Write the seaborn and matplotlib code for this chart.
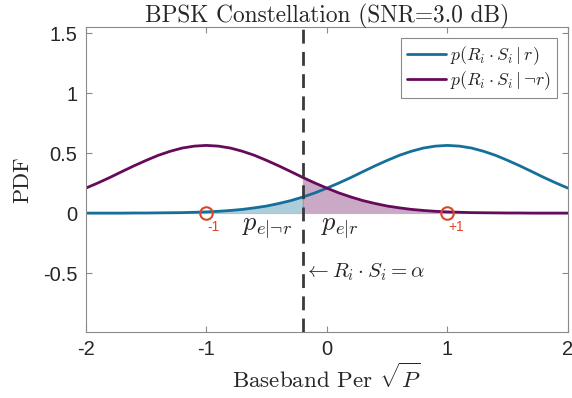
import numpy as np
import pandas as pd
import matplotlib
matplotlib.use("Agg")
import matplotlib.pyplot as plt
import seaborn as sns

# ---- data ----
x_vals = [-2.0, -1.9, -1.8, -1.7, -1.6, -1.5, -1.4, -1.3, -1.2, -1.1, -1.0,
          -0.9, -0.8, -0.7, -0.6, -0.5, -0.4, -0.3, -0.2, -0.1, 0.0,
          0.1, 0.2, 0.3, 0.4, 0.5, 0.6, 0.7, 0.8, 0.9, 1.0,
          1.1, 1.2, 1.3, 1.4, 1.5, 1.6, 1.7, 1.8, 1.9, 2.0]
pdf_r = [0.000, 0.000, 0.000, 0.000, 0.001, 0.001, 0.002, 0.003, 0.004, 0.007, 0.010,
         0.015, 0.022, 0.031, 0.044, 0.059, 0.080, 0.104, 0.134, 0.168, 0.208,
         0.251, 0.297, 0.346, 0.394, 0.439, 0.481, 0.515, 0.542, 0.558, 0.564,
         0.558, 0.542, 0.515, 0.481, 0.439, 0.394, 0.346, 0.297, 0.251, 0.208]
pdf_not_r = [0.208, 0.251, 0.297, 0.346, 0.394, 0.439, 0.481, 0.515, 0.542, 0.558, 0.564,
             0.558, 0.542, 0.515, 0.481, 0.439, 0.394, 0.346, 0.297, 0.251, 0.208,
             0.168, 0.134, 0.104, 0.080, 0.059, 0.044, 0.031, 0.022, 0.015, 0.010,
             0.007, 0.004, 0.003, 0.002, 0.001, 0.001, 0.000, 0.000, 0.000, 0.000]
symbols_x = [-1, 1]
symbols_y = [0, 0]
symbol_labels = ["-1", "+1"]
alpha_thr = -0.2
series_labels = [r"$p(R_i \cdot S_i \mid r)$", r"$p(R_i \cdot S_i \mid \neg r)$"]
title = "BPSK Constellation (SNR=3.0 dB)"
xlabel = r"Baseband Per $\sqrt{P}$"
ylabel = "PDF"
xticks = [-2, -1, 0, 1, 2]
yticks = [-0.5, 0, 0.5, 1, 1.5]
ytick_labels = ["-0.5", "0", "0.5", "1", "1.5"]

# ---- style ----
sns.set_theme(style="white")
plt.rcParams["font.family"] = ["Liberation Sans", "DejaVu Sans"]
plt.rcParams["mathtext.fontset"] = "cm"

c_blue = "#14709a"
c_purple = "#660a5c"
c_red = "#d9472b"
c_axis = "#8a8a8a"

df = pd.DataFrame({
    "x": x_vals * 2,
    "y": pdf_r + pdf_not_r,
    "s": [series_labels[0]] * len(x_vals) + [series_labels[1]] * len(x_vals),
})

fig = plt.figure(figsize=(5.72, 3.98), dpi=100)
ax = fig.add_axes([0.150, 0.166, 0.843, 0.766])

xa = np.array(x_vals)
ax.fill_between(xa, 0, pdf_r, where=xa <= alpha_thr + 1e-9, color=c_blue, alpha=0.35,
                linewidth=0.8, edgecolor="#888888")
ax.fill_between(xa, 0, pdf_not_r, where=xa >= alpha_thr - 1e-9, color=c_purple, alpha=0.35,
                linewidth=0.8, edgecolor="#888888")

sns.lineplot(data=df, x="x", y="y", hue="s", palette=[c_blue, c_purple],
             linewidth=2.0, ax=ax, legend=True)

ax.axvline(alpha_thr, color="#3a3a3a", linewidth=2.0, linestyle=(0, (5, 3)), zorder=3)

ax.plot(symbols_x, symbols_y, linestyle="none", marker="o", markersize=9,
        markerfacecolor="none", markeredgecolor=c_red, markeredgewidth=1.5, zorder=4)
for sx, lab in zip(symbols_x, symbol_labels):
    ax.text(sx + 0.005, -0.06, lab, color=c_red, fontsize=10, ha="left", va="top")

ax.text(-0.5, -0.13, r"$p_{e|\neg r}$", fontsize=19, ha="center", va="center")
ax.text(0.11, -0.13, r"$p_{e|r}$", fontsize=19, ha="center", va="center")
ax.text(-0.19, -0.49, r"$\leftarrow R_i \cdot S_i = \alpha$", fontsize=15, ha="left", va="center")

ax.set_xlim(-2, 2)
ax.set_ylim(-0.99, 1.55)
ax.set_xticks(xticks)
ax.set_xticklabels([str(t) for t in xticks])
ax.set_yticks(yticks)
ax.set_yticklabels(ytick_labels)
ax.tick_params(direction="in", length=4, width=0.8, color=c_axis, labelsize=14.5,
               labelcolor="#262626", top=True, right=True, bottom=True, left=True, pad=6)
for sp in ax.spines.values():
    sp.set_color(c_axis)
    sp.set_linewidth(0.8)

ax.set_title(title, fontsize=16.8, pad=3, fontfamily="cmr10")
ax.set_xlabel(xlabel, fontsize=16.6, labelpad=2, fontfamily="cmr10")
ax.set_ylabel(ylabel, fontsize=16, labelpad=8, fontfamily="cmr10")

leg = ax.legend(loc="upper right", fontsize=12.8, frameon=True, fancybox=False,
                edgecolor=c_axis, framealpha=1, handlelength=2.2, handletextpad=0.2,
                borderpad=0.35, labelspacing=0.15, borderaxespad=0.6)
leg.get_frame().set_linewidth(0.8)
for h in leg.get_lines():
    h.set_linewidth(2.0)

fig.savefig("out.png", dpi=100)
